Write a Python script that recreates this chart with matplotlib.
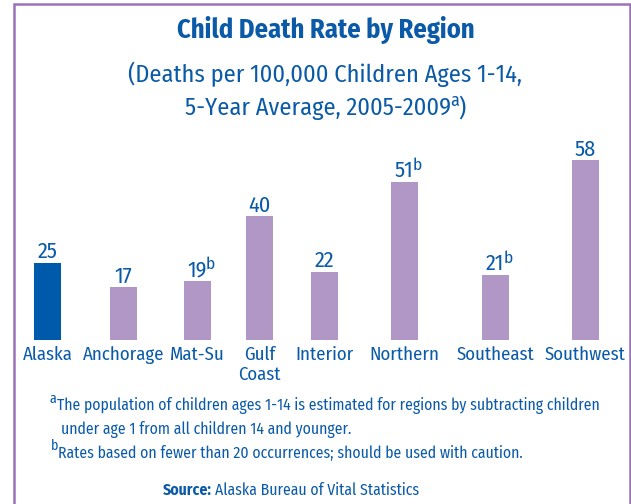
import matplotlib
matplotlib.use("Agg")
import matplotlib.pyplot as plt
from matplotlib.lines import Line2D

regions = ['Alaska', 'Anchorage', 'Mat-Su', 'Gulf\nCoast', 'Interior', 'Northern', 'Southeast', 'Southwest']
rates = [25, 17, 19, 40, 22, 51, 21, 58]
flags = ['', '', 'b', '', '', 'b', 'b', '']

# bar centres are not evenly spaced in the original
xpos = [47.5, 123.5, 197.5, 259.5, 324.5, 404.5, 495.5, 585.5]

blue = '#0a5aa8'
bar_blue = '#005aab'
bar_purple = '#b197c6'
frame = '#9b72b8'
font = 'Fira Sans Condensed'

plt.rcParams['font.family'] = [font, 'DejaVu Sans']

W, H = 631, 504
fig = plt.figure(figsize=(W / 100, H / 100), dpi=100)

# axes: full width in pixel units, y=0 at pixel 340, 60 at ~154
y0 = 340
ppu = 3.1
ax = fig.add_axes([0, (H - y0) / H, 1, 60 * ppu / H])
ax.set_xlim(0, W)
ax.set_ylim(0, 60)
ax.axis('off')

colors = [bar_blue] + [bar_purple] * (len(rates) - 1)
ax.bar(xpos, rates, width=27, color=colors)

for x, v, f in zip(xpos, rates, flags):
    if not f:
        ax.annotate(str(v), (x, v), xytext=(0, 0), textcoords='offset points',
                    ha='center', va='bottom', fontsize=16, color=blue)
    else:
        # number + raised footnote letter, number roughly over the bar
        ax.annotate(str(v), (x, v), xytext=(6.5, 0), textcoords='offset points',
                    ha='right', va='bottom', fontsize=16, color=blue)
        ax.annotate(f, (x, v), xytext=(6.2, 6), textcoords='offset points',
                    ha='left', va='bottom', fontsize=12.5, color=blue)

for x, lab in zip(xpos, regions):
    ax.annotate(lab, (x, 0), xytext=(0, -4.5), textcoords='offset points',
                ha='center', va='top', fontsize=13.5, color=blue, linespacing=1.12)

# titles
fig.canvas.draw()
r = fig.canvas.get_renderer()
fig.text(326 / W, 1 - 30 / H, 'Child Death Rate by Region', ha='center', va='center',
         fontsize=19, fontweight='bold', color=blue)
fig.text(325 / W, 1 - 74 / H, '(Deaths per 100,000 Children Ages 1-14,', ha='center',
         va='center', fontsize=17.5, color=blue)
sub2 = fig.text(318 / W, 1 - 108 / H, '5-Year Average, 2005-2009', ha='center',
                va='center', fontsize=17.5, color=blue)
b2 = sub2.get_window_extent(r)
sa = fig.text((b2.x1 - 1) / W, 1 - 101 / H, 'a', ha='left', va='center', fontsize=13, color=blue)
ba = sa.get_window_extent(r)
fig.text((ba.x1 - 0.5) / W, 1 - 108 / H, ')', ha='left', va='center', fontsize=17.5, color=blue)

# footnotes
fs = 11.3
fig.text(50 / W, 1 - 399 / H, 'a', ha='left', va='center', fontsize=10, color=blue)
fig.text(57 / W, 1 - 406 / H, 'The population of children ages 1-14 is estimated for regions by subtracting children',
         ha='left', va='center', fontsize=fs, color=blue)
fig.text(61 / W, 1 - 429 / H, 'under age 1 from all children 14 and younger.',
         ha='left', va='center', fontsize=fs, color=blue)
fig.text(51 / W, 1 - 446 / H, 'b', ha='left', va='center', fontsize=10, color=blue)
fig.text(58 / W, 1 - 453 / H, 'Rates based on fewer than 20 occurrences; should be used with caution.',
         ha='left', va='center', fontsize=fs, color=blue)

src = fig.text(163 / W, 1 - 490 / H, 'Source:', ha='left', va='center', fontsize=fs,
               fontweight='bold', color=blue)
bb = src.get_window_extent(r)
fig.text((bb.x1 + 3) / W, 1 - 490 / H, 'Alaska Bureau of Vital Statistics', ha='left',
         va='center', fontsize=fs, color=blue)

# open-bottom frame
lw = 2.5
fig.add_artist(Line2D([13.5 / W, 13.5 / W, 629.5 / W, 629.5 / W],
                      [0, 1 - 3.5 / H, 1 - 3.5 / H, 0],
                      transform=fig.transFigure, color=frame, lw=lw * 72 / 100,
                      solid_joinstyle='miter'))

fig.savefig('out.png', dpi=100)
